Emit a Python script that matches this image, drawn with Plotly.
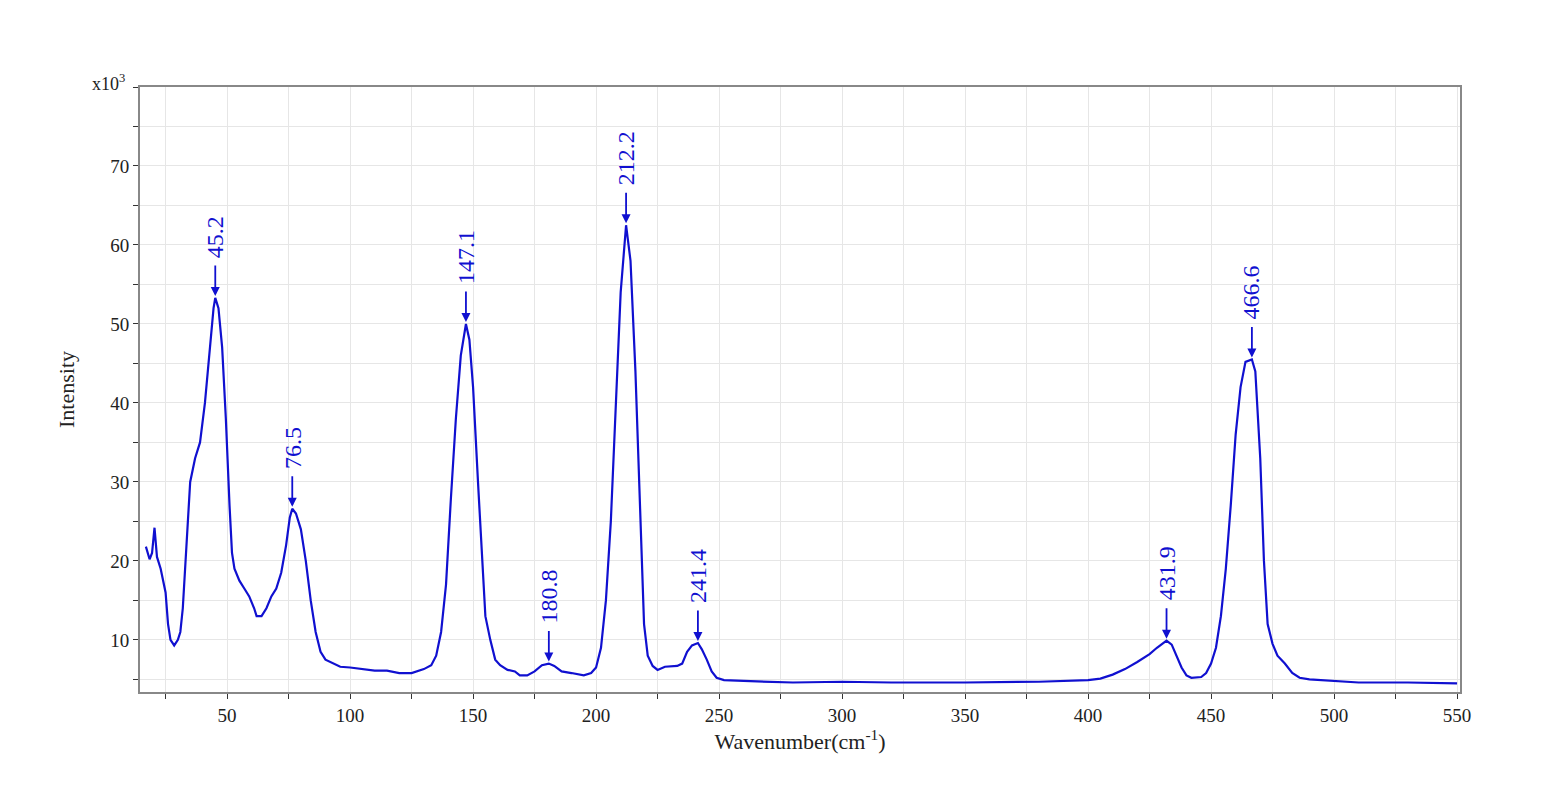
import plotly.graph_objects as go

wavenumber = [17,18.5,19.5,20.5,21.5,23,25,26,27,28.5,30,31,32,33,34,35,37,39,41,43,44.5,45.2,46.5,48,49.5,51,52,53,55,57,59,61,62,64,66,68,70,72,74,75.5,76.5,78,80,82,84,86,88,90,93,96,100,105,110,115,120,125,130,133,135,137,139,141,143,145,147.1,148.5,150,152,154,155,157,159,161,164,167,169,172,175,178,180.8,183,186,190,193,195,198,200,202,204,206,208,210,212.2,214,216,218,219.5,221,223,225,228,233,235,237,239,241.4,243,245,247,249,252,260,270,280,300,320,350,380,400,405,410,415,420,425,428,431.9,434,436,438,440,442,446,448,450,452,454,456,458,460,462,464,466.6,468,470,471.5,473,475,477,480,483,486,490,500,510,530,550]
intensity = [21.8,20.2,21,24.2,20.5,19,16,12,10,9.3,10,11,14,19,25,30,33,35,40,47,52,53.3,52,47,38,27,21,19,17.5,16.5,15.5,14,13,13,14,15.5,16.5,18.5,22,25.5,26.6,26,24,20,15,11,8.5,7.5,7,6.6,6.5,6.3,6.1,6.1,5.8,5.8,6.3,6.8,8,11,17,28,38,46,50,48,42,30,18,13,10,7.5,6.8,6.2,6,5.5,5.5,6,6.8,7,6.7,6,5.8,5.6,5.5,5.8,6.5,9,15,25,40,54,62.5,58,44,25,12,8,6.7,6.2,6.6,6.7,7,8.5,9.3,9.6,8.8,7.5,6,5.2,4.9,4.8,4.7,4.6,4.7,4.6,4.6,4.7,4.9,5.1,5.6,6.3,7.2,8.2,9,9.9,9.4,8,6.5,5.5,5.2,5.3,5.8,7,9,13,19,27,36,42,45.2,45.5,44,33,20,12,9.5,8,7,5.8,5.2,5,4.8,4.6,4.6,4.5]
peak_x = [45.2,76.5,147.1,180.8,212.2,241.4,431.9,466.6]
peak_y = [53.3,26.6,50,7,62.5,9.6,9.9,45.5]
peak_labels = ["45.2","76.5","147.1","180.8","212.2","241.4","431.9","466.6"]

BLUE = "#1010d0"
fig = go.Figure(go.Scatter(x=wavenumber, y=intensity, mode="lines",
                           line=dict(color=BLUE, width=2.2)))
for px, py, lab in zip(peak_x, peak_y, peak_labels):
    fig.add_annotation(x=px, y=py, ax=0, ay=-34, text="", showarrow=True,
                       arrowhead=2, arrowsize=1, arrowwidth=1.8, arrowcolor=BLUE,
                       standoff=2)
    fig.add_annotation(x=px, y=py, text=lab, showarrow=False, textangle=-90,
                       yanchor="bottom", yshift=38,
                       font=dict(family="Liberation Serif", size=24, color=BLUE))
fig.add_annotation(xref="paper", yref="paper", x=-0.01, y=0.985, xanchor="right", yanchor="bottom",
                   text="x10<sup>3</sup>", showarrow=False,
                   font=dict(family="Liberation Serif", size=18, color="#222"))
ax_common = dict(showline=True, linecolor="#888", linewidth=2, mirror=True,
                 gridcolor="#e6e6e6", ticks="outside", tickcolor="#333",
                 tickfont=dict(family="Liberation Serif", size=19, color="#222"), zeroline=False)
fig.update_xaxes(range=[14.6, 551.2], tickvals=list(range(50, 551, 50)),
                 minor=dict(dtick=25, tick0=0, showgrid=True, gridcolor="#e6e6e6", ticks="outside", ticklen=5, tickcolor="#333"),
                 title=dict(text="Wavenumber(cm<sup>-1</sup>)", standoff=2,
                            font=dict(family="Liberation Serif", size=22, color="#222")), **ax_common)
fig.update_yaxes(range=[3.4, 80], tickvals=list(range(10, 71, 10)),
                 minor=dict(dtick=5, tick0=0, showgrid=True, gridcolor="#e6e6e6", ticks="outside", ticklen=5, tickcolor="#333"),
                 title=dict(text="Intensity", standoff=30, font=dict(family="Liberation Serif", size=22, color="#222")), **ax_common)
fig.update_layout(width=1550, height=807, plot_bgcolor="white", paper_bgcolor="white",
                  margin=dict(l=132, r=98, t=79, b=123, autoexpand=False), showlegend=False)
fig.write_html("out.html")
